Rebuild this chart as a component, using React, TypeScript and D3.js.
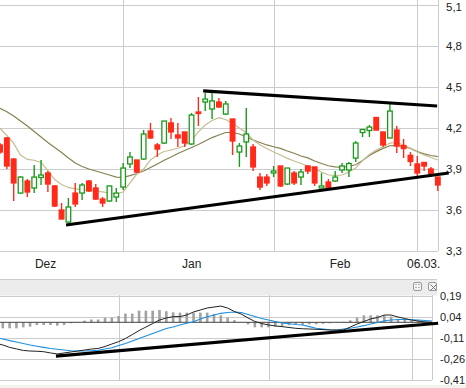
import * as d3 from 'd3';
import { useEffect, useRef } from 'react';

// daily candles, index 0 = first visible day
const openP = [4.076, 4.127, 3.973, 3.724, 3.812, 3.761, 3.838, 3.871, 3.776, 3.6, 3.512, 3.724, 3.724, 3.812, 3.761, 3.68, 3.666, 3.695, 3.768, 3.937, 3.966, 3.973, 4.178, 4.076, 4.09, 4.237, 4.149, 4.171, 4.083, 4.317, 4.39, 4.339, 4.39, 4.302, 4.266, 4.024, 4.098, 4.061, 3.841, 3.841, 3.871, 3.922, 3.79, 3.871, 3.841, 3.922, 3.915, 3.761, 3.805, 3.812, 3.893, 3.893, 3.98, 4.167, 4.182, 4.277, 4.171, 4.127, 4.185, 4.072, 4.0, 3.937, 3.948, 3.9, 3.841];
const highP = [4.09, 4.134, 3.98, 3.849, 3.827, 3.929, 3.966, 3.885, 3.783, 3.651, 3.688, 3.798, 3.798, 3.82, 3.79, 3.695, 3.776, 3.761, 3.944, 4.024, 3.966, 4.185, 4.237, 4.09, 4.251, 4.273, 4.237, 4.171, 4.31, 4.427, 4.456, 4.456, 4.42, 4.398, 4.266, 4.09, 4.346, 4.083, 3.871, 3.863, 3.922, 3.922, 3.907, 3.885, 3.9, 3.929, 3.915, 3.871, 3.827, 3.885, 3.944, 3.951, 4.105, 4.189, 4.222, 4.28, 4.171, 4.376, 4.215, 4.12, 4.024, 3.995, 3.951, 3.915, 3.841];
const lowP = [4.01, 3.9, 3.666, 3.717, 3.695, 3.724, 3.783, 3.732, 3.622, 3.534, 3.505, 3.622, 3.673, 3.732, 3.673, 3.622, 3.659, 3.659, 3.746, 3.907, 3.871, 3.966, 4.12, 3.988, 4.083, 4.12, 4.061, 4.061, 4.076, 4.215, 4.324, 4.266, 4.346, 4.295, 4.002, 3.915, 3.988, 3.885, 3.746, 3.776, 3.841, 3.768, 3.783, 3.783, 3.783, 3.863, 3.776, 3.761, 3.761, 3.805, 3.871, 3.841, 3.951, 4.134, 4.134, 4.185, 4.061, 4.127, 4.017, 3.98, 3.922, 3.834, 3.885, 3.841, 3.739];
const closeP = [4.024, 3.922, 3.798, 3.841, 3.732, 3.841, 3.856, 3.79, 3.629, 3.534, 3.622, 3.644, 3.783, 3.739, 3.68, 3.651, 3.776, 3.724, 3.907, 3.988, 3.878, 4.156, 4.127, 4.046, 4.251, 4.171, 4.127, 4.09, 4.295, 4.306, 4.412, 4.398, 4.354, 4.376, 4.105, 4.068, 4.156, 3.915, 3.768, 3.798, 3.885, 3.776, 3.907, 3.798, 3.878, 3.885, 3.798, 3.776, 3.761, 3.841, 3.922, 3.94, 4.09, 4.189, 4.207, 4.185, 4.076, 4.324, 4.068, 4.05, 3.955, 3.871, 3.922, 3.863, 3.783];

// moving averages as shown
const maShort = [4.198, 4.145, 4.087, 4.002, 3.97, 3.964, 3.948, 3.889, 3.823, 3.787, 3.765, 3.754, 3.749, 3.746, 3.738, 3.732, 3.724, 3.717, 3.732, 3.798, 3.863, 3.9, 3.966, 4.002, 4.028, 4.039, 4.052, 4.07, 4.112, 4.172, 4.222, 4.255, 4.275, 4.262, 4.233, 4.2, 4.166, 4.112, 4.078, 4.05, 4.024, 4.002, 3.978, 3.959, 3.94, 3.922, 3.9, 3.878, 3.856, 3.853, 3.856, 3.878, 3.907, 3.962, 4.006, 4.039, 4.063, 4.09, 4.094, 4.076, 4.051, 4.024, 4.002, 3.984, 3.966];
const maLong = [4.344, 4.319, 4.288, 4.251, 4.215, 4.174, 4.134, 4.094, 4.057, 4.021, 3.981, 3.944, 3.918, 3.9, 3.885, 3.871, 3.856, 3.841, 3.839, 3.852, 3.867, 3.885, 3.911, 3.937, 3.964, 3.988, 4.014, 4.035, 4.057, 4.079, 4.105, 4.13, 4.149, 4.167, 4.167, 4.156, 4.134, 4.112, 4.094, 4.076, 4.063, 4.051, 4.032, 4.015, 3.995, 3.981, 3.959, 3.94, 3.924, 3.915, 3.912, 3.92, 3.931, 3.962, 3.999, 4.027, 4.051, 4.07, 4.073, 4.065, 4.051, 4.028, 4.011, 3.999, 3.99];

// MACD panel
const macdLine = [-0.15, -0.162, -0.179, -0.19, -0.201, -0.205, -0.207, -0.21, -0.219, -0.226, -0.219, -0.212, -0.205, -0.198, -0.191, -0.187, -0.173, -0.155, -0.138, -0.116, -0.088, -0.059, -0.034, -0.009, 0.016, 0.031, 0.04, 0.041, 0.052, 0.074, 0.088, 0.102, 0.109, 0.116, 0.102, 0.077, 0.059, 0.031, 0.006, -0.009, -0.019, -0.026, -0.031, -0.037, -0.043, -0.046, -0.048, -0.05, -0.052, -0.055, -0.055, -0.055, -0.034, -0.012, 0.006, 0.024, 0.034, 0.052, 0.052, 0.038, 0.027, 0.016, 0.009, 0.002, 0];
const signalLine = [-0.11, -0.119, -0.131, -0.141, -0.151, -0.162, -0.171, -0.179, -0.187, -0.193, -0.198, -0.203, -0.205, -0.205, -0.203, -0.2, -0.191, -0.182, -0.166, -0.151, -0.134, -0.116, -0.098, -0.08, -0.062, -0.044, -0.034, -0.019, -0.007, 0.004, 0.024, 0.04, 0.052, 0.064, 0.07, 0.074, 0.07, 0.056, 0.041, 0.027, 0.016, 0.006, -0.005, -0.01, -0.016, -0.019, -0.031, -0.043, -0.048, -0.053, -0.055, -0.048, -0.043, -0.034, -0.024, -0.012, -0.001, 0.011, 0.016, 0.02, 0.02, 0.018, 0.016, 0.013, 0.009];
const macdHist = [-0.043, -0.043, -0.043, -0.043, -0.036, -0.031, -0.019, -0.019, -0.019, -0.024, -0.019, -0.007, -0.003, 0.012, 0.02, 0.02, 0.033, 0.033, 0.045, 0.062, 0.062, 0.083, 0.083, 0.083, 0.088, 0.079, 0.071, 0.069, 0.069, 0.069, 0.069, 0.069, 0.06, 0.05, 0.033, 0.015, 0, -0.015, -0.036, -0.036, -0.036, -0.031, -0.03, -0.021, -0.019, -0.019, -0.014, -0.014, -0.011, -0.007, -0.002, 0.003, 0.014, 0.034, 0.05, 0.05, 0.05, 0.05, 0.041, 0.021, 0.016, 0.012, 0.012, 0.005, 0.002];

// hand-drawn trend lines: [index, value] endpoints
const trendUpper = [[29.7, 4.471], [63.9, 4.361]];
const trendLower = [[9.65, 3.49], [65.6, 3.871]];
const trendMacd = [[8.8, -0.241], [64.9, -0.007]];

const priceTicks = [5.1, 4.8, 4.5, 4.2, 3.9, 3.6, 3.3];
const macdTicks = [0.19, 0.04, -0.11, -0.26, -0.41];
const gridDays = [18, 40, 61, 64];
const monthLabels = ['Dez', 'Jan', 'Feb', '06.03.'];
const monthIdx = [5.1, 26.6, 48.2, 59.5];

const RED = '#ff2a1a';
const GREEN = '#1a9a1a';
const GRID = '#cccccc';
const FONT = '"Liberation Sans", Arial, sans-serif';

const App = () => {
  const ref = useRef(null);

  useEffect(() => {
    const svg = d3.select(ref.current);
    svg.selectAll('*').remove();
    const n = openP.length;
    const fmt = (v) => String(v).replace('.', ',');

    const x = d3.scaleLinear().domain([0, n - 1]).range([0, 437.8]);
    const y = d3.scaleLinear().domain([3.3, 5.1]).range([251, 5]);
    const xm = d3.scaleLinear().domain([0, n - 1]).range([-4, 432]);
    const ym = d3.scaleLinear().domain([-0.41, 0.19]).range([379.7, 295.7]);

    svg.append('rect').attr('width', 466).attr('height', 388).attr('fill', '#fff');

    // ---- main panel
    const main = svg.append('g');
    main.selectAll('.hg').data(priceTicks).enter().append('line')
      .attr('x1', 0).attr('x2', 438).attr('y1', (d) => Math.round(y(d)) + 0.5).attr('y2', (d) => Math.round(y(d)) + 0.5)
      .attr('stroke', GRID);
    main.selectAll('.vg').data(gridDays).enter().append('line')
      .attr('x1', (d) => Math.round(x(d)) + 0.5).attr('x2', (d) => Math.round(x(d)) + 0.5)
      .attr('y1', 0).attr('y2', 251).attr('stroke', GRID);

    main.selectAll('.pl').data(priceTicks).enter().append('text')
      .attr('x', 446).attr('y', (d) => Math.max(y(d), 7)).attr('dy', '0.36em')
      .attr('font-family', FONT).attr('font-size', 11.5).attr('fill', '#222')
      .text((d) => fmt(d.toFixed(1)));

    main.selectAll('.ml').data(monthLabels).enter().append('text')
      .attr('x', (d, i) => x(monthIdx[i])).attr('y', 268)
      .attr('font-family', FONT).attr('font-size', 12).attr('fill', '#222')
      .text((d) => d);

    const lineMain = (arr) => d3.line().x((d, i) => x(i)).y((d) => y(d))(arr);
    main.append('path').attr('d', lineMain(maLong)).attr('fill', 'none').attr('stroke', '#878050').attr('stroke-width', 1.2);
    main.append('path').attr('d', lineMain(maShort)).attr('fill', 'none').attr('stroke', '#c4bd92').attr('stroke-width', 1.2);

    const idx = d3.range(n);
    const candles = main.selectAll('.c').data(idx).enter().append('g');
    candles.append('line')
      .attr('x1', (i) => x(i)).attr('x2', (i) => x(i))
      .attr('y1', (i) => y(highP[i])).attr('y2', (i) => y(lowP[i]))
      .attr('stroke', (i) => (closeP[i] >= openP[i] ? GREEN : RED)).attr('stroke-width', 1.4);
    candles.append('rect')
      .attr('x', (i) => x(i) - 2.3).attr('width', 4.6)
      .attr('y', (i) => y(Math.max(openP[i], closeP[i])))
      .attr('height', (i) => Math.max(1, Math.abs(y(openP[i]) - y(closeP[i]))))
      .attr('fill', (i) => (closeP[i] >= openP[i] ? '#fff' : RED))
      .attr('stroke', (i) => (closeP[i] >= openP[i] ? GREEN : RED)).attr('stroke-width', 1.3);

    [trendUpper, trendLower].forEach((t) => {
      main.append('line')
        .attr('x1', x(t[0][0])).attr('y1', y(t[0][1])).attr('x2', x(t[1][0])).attr('y2', y(t[1][1]))
        .attr('stroke', '#000').attr('stroke-width', 3.2);
    });

    // ---- MACD panel
    const sub = svg.append('g');
    sub.append('rect').attr('x', 0).attr('y', 279.5).attr('width', 437).attr('height', 16).attr('fill', '#ececec');
    sub.append('line').attr('x1', 0).attr('x2', 437).attr('y1', 279.5).attr('y2', 279.5).attr('stroke', GRID);
    sub.selectAll('.hg').data(macdTicks).enter().append('line')
      .attr('x1', 0).attr('x2', 432).attr('y1', (d) => Math.round(ym(d)) + 0.5).attr('y2', (d) => Math.round(ym(d)) + 0.5)
      .attr('stroke', GRID);
    sub.selectAll('.vg').data(gridDays).enter().append('line')
      .attr('x1', (d) => Math.round(xm(d)) + 0.5).attr('x2', (d) => Math.round(xm(d)) + 0.5)
      .attr('y1', 295).attr('y2', 380).attr('stroke', GRID);

    [413, 428].forEach((bx) => {
      sub.append('rect').attr('x', bx + 0.5).attr('y', 282.5).attr('width', 8).attr('height', 8).attr('rx', 1.5)
        .attr('fill', '#f3f3f3').attr('stroke', '#9a9a9a');
    });
    sub.append('path').attr('d', 'M430.5,284.5 L436.5,290.5 M436.5,284.5 L430.5,290.5').attr('stroke', '#777');
    sub.append('path').attr('d', 'M415.5,284.5 h1 M418.5,284.5 h1 M415.5,287.5 h1 M418.5,287.5 h1').attr('stroke', '#777');

    sub.selectAll('.hb').data(idx.filter((i) => xm(i) > 0)).enter().append('rect')
      .attr('x', (i) => xm(i) - 1.3).attr('width', 2.6)
      .attr('y', (i) => Math.min(ym(0), ym(macdHist[i])))
      .attr('height', (i) => Math.abs(ym(macdHist[i]) - ym(0)))
      .attr('fill', '#a2a2a2');
    sub.append('line').attr('x1', 0).attr('x2', 432).attr('y1', ym(0)).attr('y2', ym(0)).attr('stroke', '#444');

    const clip = svg.append('clipPath').attr('id', 'mclip');
    clip.append('rect').attr('x', 0).attr('y', 290).attr('width', 433).attr('height', 95);
    const lineSub = (arr) => d3.line().x((d, i) => xm(i)).y((d) => ym(d))(arr);
    const lines = sub.append('g').attr('clip-path', 'url(#mclip)');
    lines.append('path').attr('d', lineSub(signalLine)).attr('fill', 'none').attr('stroke', '#1b8fe0').attr('stroke-width', 1.1);
    lines.append('path').attr('d', lineSub(macdLine)).attr('fill', 'none').attr('stroke', '#222').attr('stroke-width', 1);
    sub.append('line')
      .attr('x1', xm(trendMacd[0][0])).attr('y1', ym(trendMacd[0][1])).attr('x2', xm(trendMacd[1][0])).attr('y2', ym(trendMacd[1][1]))
      .attr('stroke', '#000').attr('stroke-width', 3.2);

    sub.selectAll('.pl').data(macdTicks).enter().append('text')
      .attr('x', 440).attr('y', (d) => ym(d)).attr('dy', '0.36em')
      .attr('font-family', FONT).attr('font-size', 11).attr('fill', '#222')
      .text((d) => fmt(d.toFixed(2)));

    svg.append('rect').attr('x', 0).attr('y', 385).attr('width', 466).attr('height', 3).attr('fill', '#f1f1ed');
  }, []);

  return (
    <svg ref={ref} width={466} height={388} style={{ position: 'absolute', left: 0, top: 0 }} />
  );
};

export default App;
